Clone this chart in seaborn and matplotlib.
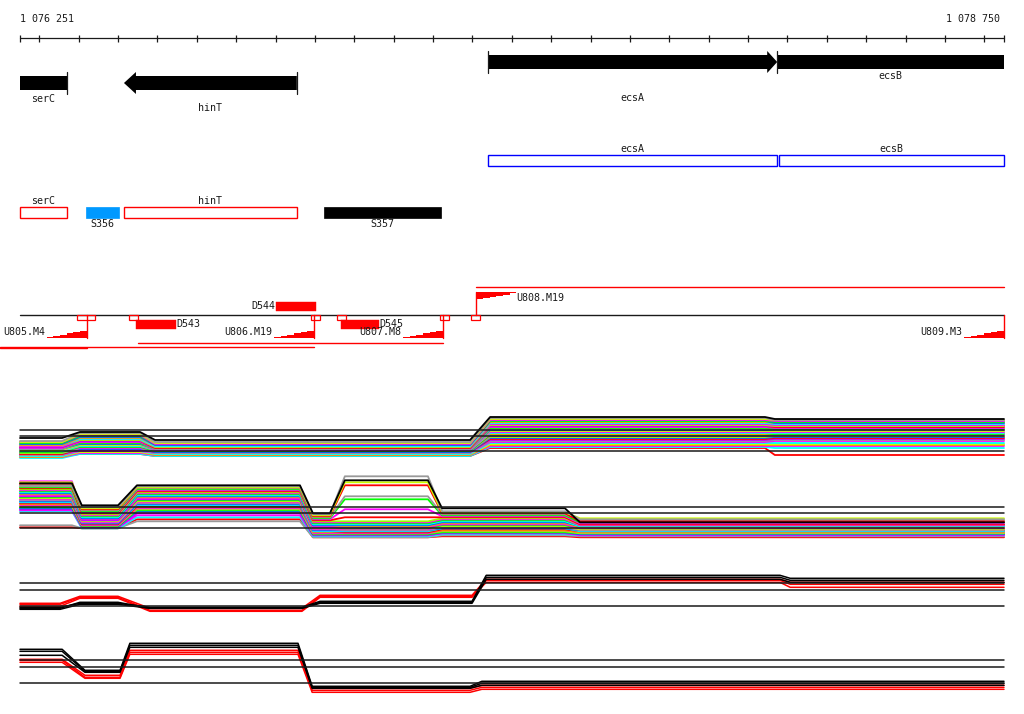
import matplotlib
matplotlib.use('Agg')
import matplotlib.pyplot as plt
import numpy as np
import pandas as pd
import seaborn as sns
from matplotlib.patches import Rectangle, Polygon

sns.set_theme(style='white')
plt.rcParams['font.family'] = ['DejaVu Sans Mono', 'DejaVu Sans']
plt.rcParams['text.color'] = 'black'

# ---------------------------------------------------------------- data
VIEW_START, VIEW_END = 1076251, 1078750
RULER_TICKS = list(range(1076300, 1078701, 100))
RULER_LABELS = ['1 076 251', '1 078 750']

GENE_NAMES = ['serC', 'hinT', 'ecsA', 'ecsB']
GENE_STARTS = [1076120, 1076515, 1077440, 1078174]
GENE_ENDS = [1076370, 1076954, 1078174, 1078900]
GENE_STRANDS = ['-', '-', '+', '+']

OPERON_NAMES = ['ecsA', 'ecsB']
OPERON_STARTS = [1077440, 1078178]
OPERON_ENDS = [1078174, 1078760]

FEATURE_NAMES = ['serC', 'S356', 'hinT', 'S357']
FEATURE_STARTS = [1076120, 1076419, 1076515, 1077023]
FEATURE_ENDS = [1076370, 1076502, 1076954, 1077320]
FEATURE_KINDS = ['gene', 'segment', 'gene', 'segment']
FEATURE_COLORS = ['#ff0000', '#0099ff', '#ff0000', '#000000']

TU_NAMES = ['U805.M4', 'U806.M19', 'U807.M8', 'U808.M19', 'U809.M3']
TU_STARTS = [1076420, 1076998, 1077325, 1077410, 1078750]
TU_ENDS = [1076200, 1076200, 1076551, 1078750, None]
TU_STRANDS = ['-', '-', '-', '+', '-']

PROMOTER_LEFT = [1076397, 1076529, 1076991, 1077057, 1077318, 1077397]
PROMOTER_RIGHT = [1076441, 1076551, 1077012, 1077078, 1077341, 1077420]

D_NAMES = ['D543', 'D544', 'D545']
D_STARTS = [1076546, 1076901, 1077066]
D_ENDS = [1076647, 1077002, 1077163]
D_STRANDS = ['-', '+', '-']

COL = {'k': '#000000', 'gy': '#999999', 'y': '#ccff00', 'm': '#ff00ff',
       'g': '#00ff00', 'b': '#0066ff', 'o': '#ff9900', 'c': '#00ffff',
       'l': '#99ff00', 'p': '#cc00ff', 'r': '#ff0000'}

# panel 1 : segments (bp) and one level per segment for every profile
P1_SEGMENTS = [(1076251, 1076358), (1076403, 1076556), (1076594, 1077394),
               (1077445, 1078143), (1078168, 1078750)]
P1_VALUES = [
    [-2, 4, -4, 19, 17], [-5, 3, -6, 18, 16], [-6, 2, -7, 17, 16],
    [-6, 1, -8, 16, 15], [-7, 0, -8, 15, 14], [-8, -1, -9, 15, 13],
    [-9, -2, -9, 14, 13], [-9, -3, -10, 13, 12], [-10, -3, -10, 12, 11],
    [-10, -4, -11, 11, 10], [-11, -5, -11, 10, 10], [-11, -5, -12, 10, 9],
    [-12, -6, -12, 9, 8], [-12, -7, -12, 8, 7], [-13, -7, -13, 7, 6],
    [-13, -8, -13, 6, 6], [-14, -9, -13, 5, 5], [-14, -9, -14, 4, 4],
    [-15, -10, -14, 3, 3], [-15, -10, -14, 2, 3], [-16, -11, -15, 1, 2],
    [-16, -12, -15, 0, 1], [-17, -12, -15, -1, 0], [-17, -13, -16, -2, -1],
    [-18, -13, -16, -3, -2], [-18, -14, -16, -4, -3], [-19, -14, -17, -5, -4],
    [-19, -15, -17, -6, -5], [-20, -15, -18, -7, -7], [-20, -16, -18, -8, -8],
    [-21, -16, -19, -9, -9], [-21, -17, -19, -10, -10], [-22, -18, -20, -11, -12],
    [-20, -18, -20, -12, -19]]
P1_COLORS = ['k', 'gy', 'y', 'm', 'g', 'b', 'o', 'c', 'm', 'l', 'p', 'r', 'm', 'g',
             'gy', 'b', 'y', 'm', 'c', 'o', 'g', 'm', 'l', 'b', 'r', 'p', 'gy', 'm',
             'c', 'y', 'o', 'm', 'c', 'r']
P1_REFS = [6, 0, -15]

P2_SEGMENTS = [(1076251, 1076383), (1076408, 1076500), (1076548, 1076962),
               (1076995, 1077038), (1077076, 1077287), (1077323, 1077635),
               (1077673, 1078750)]
P2_VALUES = [
    [30, 8, 28, 0, 33, 5, -9], [28, 6, 27, -1, 37, 2, -6], [31, 5, 26, -2, 31, 1, -5],
    [29, 4, 26, -3, 28, 0, -8], [27, 3, 25, -4, 17, -1, -7], [26, 2, 24, -5, 14, -2, -9],
    [32, 1, 23, -6, 4, -3, -10], [25, 0, 22, -7, -4, -4, -11], [24, -1, 21, -8, -8, -5, -11],
    [23, -2, 20, -9, -9, -6, -12], [22, -3, 19, -10, -10, -7, -12], [21, -4, 18, -11, -11, -8, -13],
    [20, -5, 17, -12, -12, -9, -13], [19, -5, 16, -12, -13, -10, -14], [18, -6, 15, -13, -13, -11, -14],
    [17, -7, 14, -14, -14, -11, -15], [16, -7, 13, -14, -15, -12, -15], [15, -8, 12, -15, -15, -13, -16],
    [14, -9, 11, -16, -16, -13, -16], [13, -9, 10, -16, -17, -14, -17], [12, -10, 9, -17, -17, -15, -17],
    [11, -10, 8, -18, -18, -15, -18], [10, -11, 7, -18, -19, -16, -18], [9, -11, 6, -19, -19, -17, -19],
    [8, -12, 5, -20, -20, -17, -19], [7, -12, 4, -20, -20, -18, -20], [6, -13, 3, -21, -21, -19, -20],
    [5, -13, 2, -21, -21, -19, -21], [4, -14, 0, -22, -22, -20, -21], [3, -14, -2, -22, -22, -20, -22],
    [2, -15, -4, -23, -23, -21, -22], [-12, -15, -8, -24, -24, -22, -23], [-14, -15, -6, -24, -24, -23, -24]]
P2_COLORS = ['k', 'gy', 'y', 'r', 'gy', 'g', 'm', 'r', 'l', 'm', 'g', 'c', 'b', 'o',
             'm', 'p', 'g', 'y', 'm', 'gy', 'b', 'c', 'r', 'o', 'm', 'l', 'g', 'b',
             'p', 'm', 'c', 'gy', 'r']
P2_REFS = [6, 0, -14.7]

P3_SEGMENTS = [(1076251, 1076353), (1076403, 1076500), (1076581, 1076967),
               (1077013, 1077399), (1077435, 1078181), (1078207, 1078750)]
P3_VALUES = [
    [-17, -13, -17, -11, 15, 12], [-18, -12, -18, -12, 13, 10], [-19, -14, -18, -13, 11, 8],
    [-13, -6, -18, -5, 11, 8], [-14, -7, -20, -6, 10, 6], [-16, -8, -21, -7, 8, 3]]
P3_COLORS = ['k', 'k', 'k', 'r', 'r', 'r']
P3_REFS = [7, 0, -16]

P4_SEGMENTS = [(1076251, 1076358), (1076416, 1076505), (1076530, 1076957),
               (1076993, 1077394), (1077424, 1078750)]
P4_VALUES = [
    [18, -3, 24, -19, -14], [16, -4, 22, -20, -16], [12, -5, 20, -21, -18],
    [8, -8, 17, -21, -18], [7, -10, 15, -23, -20], [5, -11, 13, -25, -22]]
P4_COLORS = ['k', 'k', 'k', 'r', 'r', 'r']
P4_REFS = [7.3, 0, -16]

# ---------------------------------------------------------------- layout
W, H = 1024, 714
BPP = (VIEW_END - VIEW_START) / 984.0
X0 = VIEW_START - 20 * BPP
X1 = VIEW_START + 1004 * BPP
FS = 7.2
RED = '#ff0000'


def bp(pixels):
    return pixels * BPP


fig = plt.figure(figsize=(W / 100, H / 100), dpi=100)
fig.patch.set_facecolor('white')
ax = fig.add_axes([0, 0, 1, 1])
ax.set_xlim(X0, X1)
ax.set_ylim(H, 0)
ax.set_axis_off()

# ruler
ax.plot([VIEW_START, VIEW_END], [38.3, 38.3], color='k', lw=0.9)
ax.vlines([VIEW_START] + RULER_TICKS + [VIEW_END], 35, 41.7, color='k', lw=0.9)
ax.text(VIEW_START, 19, RULER_LABELS[0], fontsize=FS, ha='left', va='center', color='k')
ax.annotate(RULER_LABELS[1], (VIEW_END, 19), xytext=(-3, 0), textcoords='offset points',
            fontsize=FS, ha='right', va='center', color='k')

# gene arrows
label_dy = {'serC': 16, 'hinT': 25, 'ecsA': 36, 'ecsB': 14}
for name, s, e, strand in zip(GENE_NAMES, GENE_STARTS, GENE_ENDS, GENE_STRANDS):
    yc = 62 if strand == '+' else 83
    a, b = max(s, VIEW_START), min(e, VIEW_END)
    hl = bp(10 if strand == '+' else 12)
    if strand == '+':
        if e <= VIEW_END:
            pts = [(a, yc - 7), (e - hl, yc - 7), (e - hl, yc - 11), (e, yc),
                   (e - hl, yc + 11), (e - hl, yc + 7), (a, yc + 7)]
        else:
            pts = [(a, yc - 7), (b, yc - 7), (b, yc + 7), (a, yc + 7)]
        mark = s
    else:
        if s >= VIEW_START:
            pts = [(b, yc - 7), (s + hl, yc - 7), (s + hl, yc - 11), (s, yc),
                   (s + hl, yc + 11), (s + hl, yc + 7), (b, yc + 7)]
        else:
            pts = [(a, yc - 7), (b, yc - 7), (b, yc + 7), (a, yc + 7)]
        mark = e
    ax.add_patch(Polygon(pts, closed=True, fc='#000000', ec='none'))
    if VIEW_START <= mark <= VIEW_END:
        ax.plot([mark, mark], [yc - 11, yc + 11], color='k', lw=0.9)
    ax.text((a + b) / 2, yc + label_dy[name], name, fontsize=FS, ha='center',
            va='center', color='k')

# operon boxes (blue)
for name, s, e in zip(OPERON_NAMES, OPERON_STARTS, OPERON_ENDS):
    a, b = max(s, VIEW_START), min(e, VIEW_END)
    ax.add_patch(Rectangle((a, 155), b - a, 11.3, fill=False, ec='#0000ff', lw=1.0))
    ax.text((a + b) / 2, 149.3, name, fontsize=FS, ha='center', va='center', color='k')

# features row
for name, s, e, kind, c in zip(FEATURE_NAMES, FEATURE_STARTS, FEATURE_ENDS,
                               FEATURE_KINDS, FEATURE_COLORS):
    a, b = max(s, VIEW_START), min(e, VIEW_END)
    if kind == 'gene':
        ax.add_patch(Rectangle((a, 207.3), b - a, 10.4, fill=False, ec=c, lw=1.0))
        ax.text((a + b) / 2, 200.7, name, fontsize=FS, ha='center', va='center', color='k')
    else:
        ax.add_patch(Rectangle((a, 207.3), b - a, 10.4, fc=c, ec=c, lw=0.5))
        ax.text((a + b) / 2, 224.3, name, fontsize=FS, ha='center', va='center', color='k')

# transcription units row
ax.plot([VIEW_START, VIEW_END], [315.3, 315.3], color='k', lw=1.0, zorder=2)
for l, r in zip(PROMOTER_LEFT, PROMOTER_RIGHT):
    ax.add_patch(Rectangle((l, 315.3), r - l, 4.2, fill=False, ec=RED, lw=0.9, zorder=3))

term_y = {'U805.M4': 348.3, 'U806.M19': 346.7, 'U807.M8': 343.3, 'U808.M19': 287}
FW = bp(40)
for name, s, e, strand in zip(TU_NAMES, TU_STARTS, TU_ENDS, TU_STRANDS):
    n = 6
    if strand == '-':
        base, hgt = 338.3, 7.6
        ax.plot([s, s], [315.3, base], color=RED, lw=1.0, zorder=3)
        pts = [(s - FW, base)]
        for i in range(n):
            xa = s - FW + i * FW / n
            h = hgt * (i + 1) / n
            pts += [(xa, base - h), (xa + FW / n, base - h)]
        pts += [(s, base)]
        ax.add_patch(Polygon(pts, closed=True, fc=RED, ec='none', zorder=3))
        ax.annotate(name, (s - FW, 332), xytext=(-1, 0), textcoords='offset points',
                    fontsize=FS, ha='right', va='center', color='k')
    else:
        top, hgt = 292.3, 6.7
        ax.plot([s, s], [315.3, top], color=RED, lw=1.0, zorder=3)
        pts = [(s, top)]
        for i in range(n):
            xa = s + i * FW / n
            h = hgt * (n - i) / n
            pts += [(xa, top + h), (xa + FW / n, top + h)]
        pts += [(s + FW, top)]
        ax.add_patch(Polygon(pts, closed=True, fc=RED, ec='none', zorder=3))
        ax.text(s + FW, 297.7, name, fontsize=FS, ha='left', va='center', color='k')
    if e is not None and name in term_y:
        ax.plot([s, e], [term_y[name], term_y[name]], color=RED, lw=1.0)

for name, s, e, strand in zip(D_NAMES, D_STARTS, D_ENDS, D_STRANDS):
    if strand == '+':
        ax.add_patch(Rectangle((s, 302), e - s, 8.7, fc=RED, ec=RED, lw=0.3))
        ax.annotate(name, (s, 306.3), xytext=(-0.5, 0), textcoords='offset points',
                    fontsize=FS, ha='right', va='center', color='k')
    else:
        ax.add_patch(Rectangle((s, 320), e - s, 8.7, fc=RED, ec=RED, lw=0.3))
        ax.text(e, 324.3, name, fontsize=FS, ha='left', va='center', color='k')


# expression panels
def panel(top, bottom, mid, segs, values, colors, refs, lw):
    pax = fig.add_axes([0, 1 - bottom / H, 1, (bottom - top) / H])
    pax.set_xlim(X0, X1)
    pax.set_ylim(-(bottom - mid), mid - top)
    pax.set_axis_off()
    pax.patch.set_alpha(0)
    rows = []
    for k, vals in enumerate(values):
        for (s, e), v in zip(segs, vals):
            rows.append(('t%02d' % k, s, v))
            rows.append(('t%02d' % k, e, v))
    df = pd.DataFrame(rows, columns=['trace', 'pos', 'value'])
    names = ['t%02d' % k for k in range(len(values))]
    pal = {nm: COL[c] for nm, c in zip(names, colors)}
    sns.lineplot(data=df, x='pos', y='value', hue='trace', hue_order=names[::-1],
                 palette=pal, estimator=None, sort=False, legend=False, ax=pax,
                 lw=lw)
    for r in refs:
        pax.plot([VIEW_START, VIEW_END], [r, r], color='k', lw=1.1, zorder=5)
    pax.set_xlabel('')
    pax.set_ylabel('')


panel(405, 470, 436, P1_SEGMENTS, P1_VALUES, P1_COLORS, P1_REFS, 1.3)
panel(470, 545, 513.3, P2_SEGMENTS, P2_VALUES, P2_COLORS, P2_REFS, 1.3)
panel(565, 620, 590.3, P3_SEGMENTS, P3_VALUES, P3_COLORS, P3_REFS, 1.1)
panel(630, 700, 667.3, P4_SEGMENTS, P4_VALUES, P4_COLORS, P4_REFS, 1.1)

fig.savefig('out.png', dpi=100, facecolor='white')
